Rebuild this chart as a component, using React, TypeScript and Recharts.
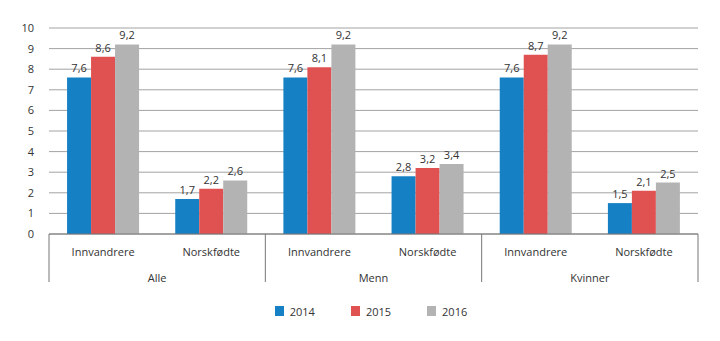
import React from 'react';
import { BarChart, Bar, XAxis, YAxis, CartesianGrid, Legend, LabelList } from 'recharts';

const groups = ['Alle', 'Menn', 'Kvinner'];
const subgroups = ['Innvandrere', 'Norskfødte'];
const v2014 = [7.6, 1.7, 7.6, 2.8, 7.6, 1.5];
const v2015 = [8.6, 2.2, 8.1, 3.2, 8.7, 2.1];
const v2016 = [9.2, 2.6, 9.2, 3.4, 9.2, 2.5];
const yTicks = [0, 1, 2, 3, 4, 5, 6, 7, 8, 9, 10];
const seriesNames = ['2014', '2015', '2016'];
const colors = ['#1580c4', '#e05252', '#b3b3b3'];

const data = v2014.map((_, i) => ({
  sub: subgroups[i % 2],
  grp: groups[Math.floor(i / 2)],
  y2014: v2014[i],
  y2015: v2015[i],
  y2016: v2016[i],
}));

const W = 720;
const H = 341;
const M = { top: 28, right: 22, left: 0, bottom: 20 };
const Y_W = 49;
const PLOT_W = W - M.left - M.right - Y_W;
const BAND = PLOT_W / data.length;
const FONT = '"Open Sans", sans-serif';

const fmt = (v: any) => String(v).replace('.', ',');

const XTick = (props: any) => {
  const { x, y, payload, index } = props;
  const d = data[index];
  const els: any[] = [];
  els.push(
    <text key="s" x={x} y={y + 18} dy="0.35em" textAnchor="middle" fontSize={11} fill="#333" fontFamily={FONT}>
      {payload.value}
    </text>
  );
  if (index % 2 === 0) {
    els.push(<line key="l" x1={x - BAND / 2} x2={x - BAND / 2} y1={y} y2={y + 48} stroke="#777" strokeWidth={1} />);
    els.push(
      <text key="g" x={x + BAND / 2} y={y + 44} dy="0.35em" textAnchor="middle" fontSize={11} fill="#333" fontFamily={FONT}>
        {d ? d.grp : ''}
      </text>
    );
  }
  if (index === data.length - 1) {
    els.push(<line key="r" x1={x + BAND / 2} x2={x + BAND / 2} y1={y} y2={y + 48} stroke="#777" strokeWidth={1} />);
  }
  return <g>{els}</g>;
};

const LegendContent = () => (
  <div style={{ display: 'flex', justifyContent: 'center', alignItems: 'center', height: 20, fontFamily: FONT, fontSize: 11, color: '#333', paddingLeft: 44 }}>
    {seriesNames.map((n, i) => (
      <div key={n} style={{ display: 'flex', alignItems: 'center', margin: '0 18px' }}>
        <span style={{ display: 'inline-block', width: 9, height: 10, background: colors[i], marginRight: 6 }} />
        <span>{n}</span>
      </div>
    ))}
  </div>
);

export default function App() {
  const keys = ['y2014', 'y2015', 'y2016'];
  return (
    <div style={{ position: 'absolute', left: 0, top: 0, width: W, height: H, background: '#fff' }}>
      <BarChart width={W} height={H} data={data} margin={M} barGap={0} barCategoryGap="16.7%">
        <CartesianGrid vertical={false} stroke="#a3a3a3" />
        <XAxis
          dataKey="sub"
          tick={<XTick />}
          tickLine={false}
          tickSize={0}
          tickMargin={0}
          height={67}
          interval={0}
          axisLine={{ stroke: '#777' }}
        />
        <YAxis
          width={Y_W}
          domain={[0, 10]}
          ticks={yTicks}
          axisLine={false}
          tickLine={false}
          tickSize={6}
          tickMargin={9}
          tick={{ fontSize: 11, fill: '#333', fontFamily: FONT }}
          interval={0}
        />
        <Legend verticalAlign="bottom" height={20} content={<LegendContent />} />
        {keys.map((k, i) => (
          <Bar key={k} dataKey={k} name={seriesNames[i]} fill={colors[i]} isAnimationActive={false}>
            <LabelList dataKey={k} position="top" offset={5} formatter={fmt} style={{ fontSize: 11, fill: '#333', fontFamily: FONT }} />
          </Bar>
        ))}
      </BarChart>
    </div>
  );
}
